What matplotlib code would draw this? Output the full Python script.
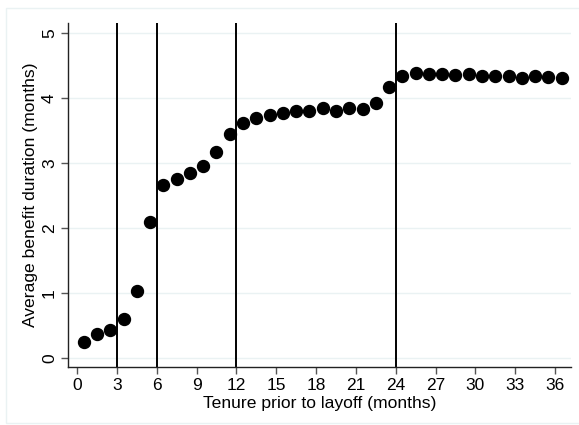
import matplotlib
matplotlib.use("Agg")
import matplotlib.pyplot as plt
from matplotlib.patches import Rectangle

plt.rcParams['font.family'] = ['Liberation Sans', 'DejaVu Sans']

tenure = [0.5, 1.5, 2.5, 3.5, 4.5, 5.5, 6.5, 7.5, 8.5, 9.5, 10.5, 11.5,
          12.5, 13.5, 14.5, 15.5, 16.5, 17.5, 18.5, 19.5, 20.5, 21.5, 22.5, 23.5,
          24.5, 25.5, 26.5, 27.5, 28.5, 29.5, 30.5, 31.5, 32.5, 33.5, 34.5, 35.5, 36.5]
duration = [0.24, 0.36, 0.43, 0.60, 1.03, 2.09, 2.66, 2.75, 2.85, 2.95, 3.16, 3.44,
            3.61, 3.69, 3.74, 3.77, 3.80, 3.79, 3.84, 3.80, 3.84, 3.83, 3.92, 4.16,
            4.34, 4.38, 4.37, 4.36, 4.35, 4.36, 4.34, 4.33, 4.33, 4.31, 4.34, 4.32, 4.31]
cutoffs = [3, 6, 12, 24]
xticks = list(range(0, 37, 3))
yticks = [0, 1, 2, 3, 4, 5]

fig = plt.figure(figsize=(5.79, 4.25), dpi=100)
fig.patches.append(Rectangle((6 / 579, 2 / 425), 1.0, 415 / 425, transform=fig.transFigure,
                             fill=False, edgecolor="#eaf2f3", linewidth=1.0))
ax = fig.add_axes([68 / 579, 1 - 367 / 425, 503 / 579, 344 / 425])

for y in yticks:
    ax.axhline(y, color="#eaf2f3", linewidth=1.0, zorder=0)
for c in cutoffs:
    ax.axvline(c, color="black", linewidth=1.4, zorder=1)

ax.plot(tenure, duration, "o", color="black", markersize=8.6, zorder=2)

ax.set_xlim(-0.68, 37.2)
ax.set_ylim(-0.14, 5.15)
ax.set_xticks(xticks)
ax.set_yticks(yticks)
ax.set_yticklabels([str(v) for v in yticks], rotation=90, va="center")
ax.tick_params(axis="both", direction="out", length=5, width=1, color="#555555",
               labelsize=12.5, pad=3)
for s in ["top", "right"]:
    ax.spines[s].set_visible(False)
for s in ["left", "bottom"]:
    ax.spines[s].set_linewidth(1.0)
    ax.spines[s].set_color("#222222")

ax.set_xlabel("Tenure prior to layoff (months)", fontsize=12.6, labelpad=2)
ax.set_ylabel("Average benefit duration (months)", fontsize=12.6, labelpad=3)

fig.savefig("out.png", dpi=100)
